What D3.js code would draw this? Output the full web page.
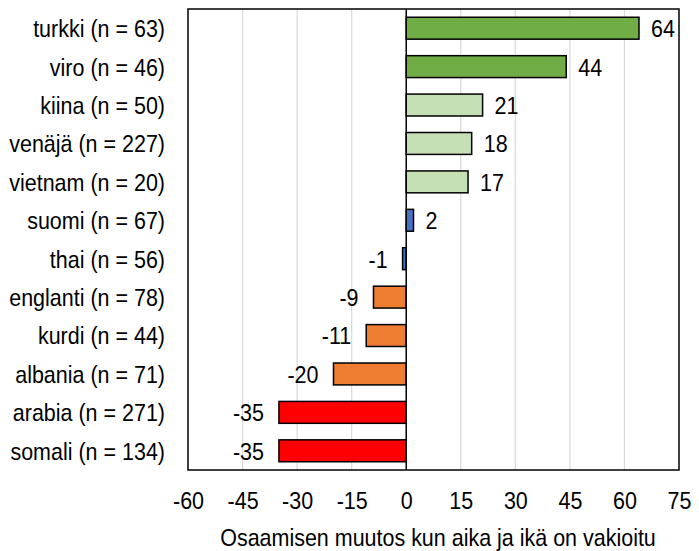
<!DOCTYPE html>
<html>
<head>
<meta charset="utf-8">
<script src="https://cdn.jsdelivr.net/npm/d3@7/dist/d3.min.js"></script>
<style>
  html, body { margin: 0; padding: 0; background: #fff; }
  svg { display: block; }
  text { font-family: "Liberation Sans", Arial, sans-serif; fill: #000; }
</style>
</head>
<body>
<svg id="chart" width="699" height="551"></svg>
<script>
// Language groups, sample sizes and change in skill score
const languages = ["turkki", "viro", "kiina", "venäjä", "vietnam", "suomi", "thai", "englanti", "kurdi", "albania", "arabia", "somali"];
const sampleSizes = [63, 46, 50, 227, 20, 67, 56, 78, 44, 71, 271, 134];
const changes = [64, 44, 21, 18, 17, 2, -1, -9, -11, -20, -35, -35];
const colorGroups = ["high", "high", "mid", "mid", "mid", "flat", "flat", "low", "low", "low", "lowest", "lowest"];
const xTicks = [-60, -45, -30, -15, 0, 15, 30, 45, 60, 75];
const axisTitle = "Osaamisen muutos kun aika ja ikä on vakioitu";

const palette = {
  high: "#70ad47",
  mid: "#c5e0b4",
  flat: "#4472c4",
  low: "#ed7d31",
  lowest: "#ff0000"
};

// Condensed type: regular sans squeezed horizontally
const FONT_SIZE = 24;
const SQUEEZE = 0.895;

const svg = d3.select("#chart");
const plot = { left: 188, right: 679, top: 9, bottom: 470 };

const rows = languages.map((name, i) => ({
  label: `${name} (n = ${sampleSizes[i]})`,
  value: changes[i],
  group: colorGroups[i]
}));

const x = d3.scaleLinear().domain([-60, 75]).range([plot.left, plot.right]);
const y = d3.scaleBand()
  .domain(rows.map(d => d.label))
  .range([plot.top, plot.bottom])
  .paddingInner(0.43)
  .paddingOuter(0.215);

// Vertical gridlines
svg.append("g")
  .selectAll("line")
  .data(xTicks.filter(t => t !== -60 && t !== 75 && t !== 0))
  .join("line")
  .attr("x1", d => x(d)).attr("x2", d => x(d))
  .attr("y1", plot.top).attr("y2", plot.bottom)
  .attr("stroke", "#d9d9d9")
  .attr("stroke-width", 1.2);

// Bars
svg.append("g")
  .selectAll("rect")
  .data(rows)
  .join("rect")
  .attr("x", d => x(Math.min(0, d.value)))
  .attr("y", d => y(d.label))
  .attr("width", d => Math.abs(x(d.value) - x(0)))
  .attr("height", y.bandwidth())
  .attr("fill", d => palette[d.group])
  .attr("stroke", "#000")
  .attr("stroke-width", 1.5);

// Zero line
svg.append("line")
  .attr("x1", x(0)).attr("x2", x(0))
  .attr("y1", plot.top).attr("y2", plot.bottom)
  .attr("stroke", "#000")
  .attr("stroke-width", 1.5);

// Plot frame
svg.append("rect")
  .attr("x", plot.left).attr("y", plot.top)
  .attr("width", plot.right - plot.left)
  .attr("height", plot.bottom - plot.top)
  .attr("fill", "none")
  .attr("stroke", "#000")
  .attr("stroke-width", 1.5);

// Value labels
svg.append("g")
  .selectAll("text")
  .data(rows)
  .join("text")
  .attr("transform", d => {
    const tx = d.value >= 0 ? x(d.value) + 12 : x(d.value) - 15;
    const ty = y(d.label) + y.bandwidth() / 2;
    return `translate(${tx},${ty}) scale(${SQUEEZE},1)`;
  })
  .attr("dy", "0.37em")
  .attr("text-anchor", d => d.value >= 0 ? "start" : "end")
  .attr("font-size", FONT_SIZE)
  .text(d => d.value);

// Category axis
const yAxis = svg.append("g")
  .attr("transform", `translate(${plot.left},0)`)
  .call(d3.axisLeft(y).tickSize(0));
yAxis.select(".domain").remove();
yAxis.selectAll("text")
  .attr("x", null)
  .attr("dy", "0.37em")
  .attr("transform", `translate(-23,0) scale(${SQUEEZE},1)`)
  .attr("font-size", FONT_SIZE)
  .style("font-family", null);

// Value axis
const xAxis = svg.append("g")
  .attr("transform", `translate(0,${plot.bottom})`)
  .call(d3.axisBottom(x).tickValues(xTicks).tickSize(0).tickFormat(d => String(d)));
xAxis.select(".domain").remove();
xAxis.selectAll("text")
  .attr("y", null)
  .attr("dy", null)
  .attr("transform", `translate(0,39) scale(${SQUEEZE},1)`)
  .attr("font-size", FONT_SIZE)
  .style("font-family", null);

// Axis title
svg.append("text")
  .attr("transform", `translate(${(plot.left + plot.right) / 2 + 4.5},546) scale(${SQUEEZE},1)`)
  .attr("text-anchor", "middle")
  .attr("font-size", FONT_SIZE)
  .text(axisTitle);
</script>
</body>
</html>
